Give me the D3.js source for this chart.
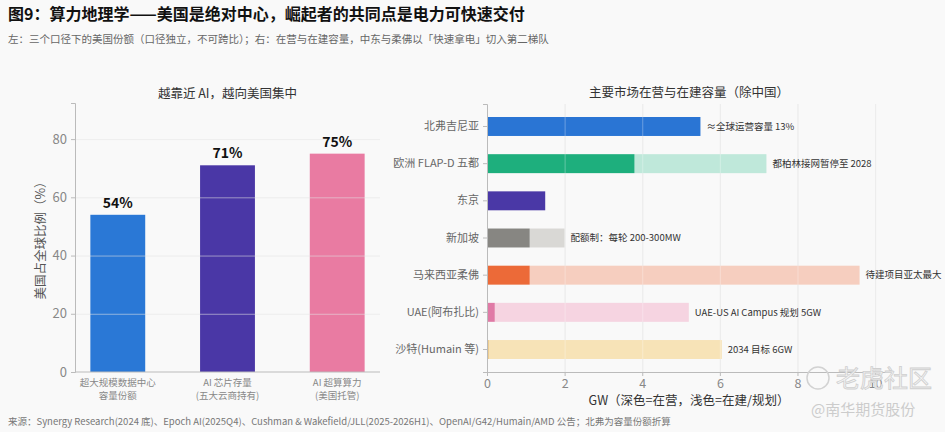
<!DOCTYPE html>
<html>
<head>
<meta charset="utf-8">
<script src="https://cdn.jsdelivr.net/npm/d3@7"></script>
<style>
  body { margin: 0; background: #f9f9f9; }
  svg text { font-family: "Noto Sans CJK SC", "Noto Sans", sans-serif; }
</style>
</head>
<body>
<div class="chart"></div>
<script>
// Left panel data
var shareCats = [["超大规模数据中心", "容量份额"], ["AI 芯片存量", "(五大云商持有)"], ["AI 超算算力", "(美国托管)"]];
var shareVals = [54, 71, 75];
var shareColors = ["#2a78d6", "#4a37a6", "#e97ba2"];
var shareTicks = [0, 20, 40, 60, 80];

// Right panel data (GW)
var marketCats = ["北弗吉尼亚", "欧洲 FLAP-D 五都", "东京", "新加坡", "马来西亚柔佛", "UAE(阿布扎比)", "沙特(Humain 等)"];
var operating = [5.5, 3.8, 1.5, 1.1, 1.1, 0.2, 0.05];
var pipeline = [0, 3.4, 0, 0.9, 8.5, 5.0, 6.0];
var marketNotes = ["≈全球运营容量 13%", "都柏林接网暂停至 2028", "", "配额制：每轮 200-300MW", "待建项目亚太最大", "UAE-US AI Campus 规划 5GW", "2034 目标 6GW"];
var darkColors = ["#2a75d4", "#1eaf7d", "#4a38a6", "#878682", "#ec6a38", "#e07aa6", "#ecc98a"];
var lightColors = ["#bfe6f5", "#bfe8da", "#c9c3e6", "#d9d8d5", "#f6cebf", "#f6d4e1", "#f7e3b7"];
var gwTicks = [0, 2, 4, 6, 8, 10];

var svgWidth = 945;
var svgHeight = 432;

var svg = d3.select(".chart")
    .append("svg")
    .attr("width", svgWidth)
    .attr("height", svgHeight);

svg.append("rect")
    .attr("width", svgWidth)
    .attr("height", svgHeight)
    .attr("fill", "#f9f9f9");

// Headings
svg.append("text")
    .attr("x", 8)
    .attr("y", 20)
    .style("font-size", "16px")
    .style("font-weight", "bold")
    .attr("fill", "#111")
    .text("图9：算力地理学——美国是绝对中心，崛起者的共同点是电力可快速交付");

svg.append("text")
    .attr("x", 8)
    .attr("y", 43)
    .style("font-size", "10.5px")
    .attr("fill", "#666")
    .text("左：三个口径下的美国份额（口径独立，不可跨比）；右：在营与在建容量，中东与柔佛以「快速拿电」切入第二梯队");

svg.append("text")
    .attr("x", 8)
    .attr("y", 425)
    .style("font-size", "9.5px")
    .attr("fill", "#777")
    .text("来源：Synergy Research(2024 底)、Epoch AI(2025Q4)、Cushman & Wakefield/JLL(2025-2026H1)、OpenAI/G42/Humain/AMD 公告；北弗为容量份额折算");

// ---------- Left panel ----------
var left = { x0: 75, x1: 380, y0: 103, y1: 372 };

var xBand = d3.scaleBand()
    .domain(d3.range(shareVals.length))
    .range([left.x0, left.x1])
    .paddingInner(0.5)
    .paddingOuter(0.14);

var yShare = d3.scaleLinear()
    .domain([0, 92.4])
    .range([left.y1, left.y0]);

svg.append("text")
    .attr("x", (left.x0 + left.x1) / 2)
    .attr("y", 98)
    .attr("text-anchor", "middle")
    .style("font-size", "12.5px")
    .attr("fill", "#333")
    .text("越靠近 AI，越向美国集中");

svg.selectAll(".sbar")
    .data(shareVals)
    .enter()
    .append("rect")
    .attr("class", "sbar")
    .attr("x", (d, i) => xBand(i))
    .attr("y", d => yShare(d))
    .attr("width", xBand.bandwidth())
    .attr("height", d => yShare(0) - yShare(d))
    .attr("fill", (d, i) => shareColors[i]);

// gridlines sit over the bars
svg.append("g")
    .attr("transform", `translate(${left.x0}, 0)`)
    .call(d3.axisLeft(yShare).tickValues(shareTicks.slice(1)).tickSize(-(left.x1 - left.x0)).tickFormat(""))
    .call(g => g.select(".domain").remove())
    .call(g => g.selectAll("line").attr("stroke", "#e4e4e4").attr("stroke-opacity", 0.55));

svg.selectAll(".slabel")
    .data(shareVals)
    .enter()
    .append("text")
    .attr("class", "slabel")
    .attr("x", (d, i) => xBand(i) + xBand.bandwidth() / 2)
    .attr("y", d => yShare(d) - 7)
    .attr("text-anchor", "middle")
    .style("font-size", "14px")
    .style("font-weight", "bold")
    .attr("fill", "#111")
    .text(d => d + "%");

var yAxisL = svg.append("g")
    .attr("transform", `translate(${left.x0}, 0)`)
    .call(d3.axisLeft(yShare).tickValues(shareTicks).tickSize(4).tickPadding(4));
yAxisL.select(".domain").attr("stroke", "#bbb");
yAxisL.selectAll("line").attr("stroke", "#bbb");
yAxisL.selectAll("text").attr("fill", "#888").style("font-size", "13px");

svg.append("line")
    .attr("x1", left.x0)
    .attr("x2", left.x1)
    .attr("y1", left.y1)
    .attr("y2", left.y1)
    .attr("stroke", "#bbb");

// two-line category labels, one text per line
shareCats.forEach(function(lines, i) {
    lines.forEach(function(t, j) {
        svg.append("text")
            .attr("x", xBand(i) + xBand.bandwidth() / 2)
            .attr("y", 386 + j * 12.5)
            .attr("text-anchor", "middle")
            .style("font-size", "9.5px")
            .attr("fill", "#888")
            .text(t);
    });
});

svg.append("text")
    .attr("transform", `translate(45, ${(left.y0 + left.y1) / 2}) rotate(-90)`)
    .attr("text-anchor", "middle")
    .style("font-size", "12.5px")
    .attr("fill", "#555")
    .text("美国占全球比例（%）");

// ---------- Right panel ----------
var right = { x0: 487, x1: 891, y0: 104, y1: 372 };

var xGW = d3.scaleLinear()
    .domain([0, 10.41])
    .range([right.x0, right.x1]);

var yBand = d3.scaleBand()
    .domain(marketCats)
    .range([right.y0, right.y1])
    .paddingInner(0.49)
    .paddingOuter(0.35);

svg.append("text")
    .attr("x", (right.x0 + right.x1) / 2)
    .attr("y", 97)
    .attr("text-anchor", "middle")
    .style("font-size", "12.5px")
    .attr("fill", "#333")
    .text("主要市场在营与在建容量（除中国）");

// vertical gridlines
svg.append("g")
    .attr("transform", `translate(0, ${right.y1})`)
    .call(d3.axisBottom(xGW).tickValues(gwTicks.slice(1)).tickSize(-(right.y1 - right.y0)).tickFormat(""))
    .call(g => g.select(".domain").remove())
    .call(g => g.selectAll("line").attr("stroke", "#e4e4e4"));

// light part (pipeline) stacked after dark part (operating)
svg.selectAll(".pbar")
    .data(pipeline)
    .enter()
    .append("rect")
    .attr("class", "pbar")
    .attr("x", (d, i) => xGW(operating[i]))
    .attr("y", (d, i) => yBand(marketCats[i]))
    .attr("width", (d, i) => xGW(operating[i] + d) - xGW(operating[i]))
    .attr("height", yBand.bandwidth())
    .attr("fill", (d, i) => lightColors[i]);

svg.selectAll(".obar")
    .data(operating)
    .enter()
    .append("rect")
    .attr("class", "obar")
    .attr("x", xGW(0))
    .attr("y", (d, i) => yBand(marketCats[i]))
    .attr("width", d => xGW(d) - xGW(0))
    .attr("height", yBand.bandwidth())
    .attr("fill", (d, i) => darkColors[i]);

// grid shows faintly through the bars
svg.append("g")
    .attr("transform", `translate(0, ${right.y1})`)
    .call(d3.axisBottom(xGW).tickValues(gwTicks.slice(1)).tickSize(-(right.y1 - right.y0)).tickFormat(""))
    .call(g => g.select(".domain").remove())
    .call(g => g.selectAll("line").attr("stroke", "#ffffff").attr("stroke-opacity", 0.3));

svg.selectAll(".note")
    .data(marketNotes)
    .enter()
    .append("text")
    .attr("class", "note")
    .attr("x", (d, i) => xGW(operating[i] + pipeline[i]) + 6)
    .attr("y", (d, i) => yBand(marketCats[i]) + yBand.bandwidth() / 2)
    .attr("dy", "0.35em")
    .style("font-size", "9.5px")
    .attr("fill", "#333")
    .text(d => d);

var yAxisR = svg.append("g")
    .attr("transform", `translate(${right.x0}, 0)`)
    .call(d3.axisLeft(yBand).tickSize(4).tickPadding(4));
yAxisR.select(".domain").attr("stroke", "#bbb");
yAxisR.selectAll("line").attr("stroke", "#bbb");
yAxisR.selectAll("text").attr("fill", "#666").style("font-size", "11px");

var xAxisR = svg.append("g")
    .attr("transform", `translate(0, ${right.y1})`)
    .call(d3.axisBottom(xGW).tickValues(gwTicks).tickSize(4).tickPadding(3));
xAxisR.select(".domain").attr("stroke", "#bbb");
xAxisR.selectAll("line").attr("stroke", "#bbb");
xAxisR.selectAll("text").attr("fill", "#888").style("font-size", "12.5px");

svg.append("text")
    .attr("x", (right.x0 + right.x1) / 2)
    .attr("y", 405)
    .attr("text-anchor", "middle")
    .style("font-size", "12.5px")
    .attr("fill", "#333")
    .text("GW（深色=在营，浅色=在建/规划）");

// Watermark
svg.append("circle")
    .attr("cx", 818)
    .attr("cy", 378)
    .attr("r", 11)
    .attr("fill", "none")
    .attr("stroke", "#d2d2d2")
    .attr("stroke-width", 1.5);

svg.append("text")
    .attr("x", 836)
    .attr("y", 387)
    .style("font-size", "24px")
    .attr("fill", "#f4f4f4")
    .attr("stroke", "#cfcfcf")
    .attr("stroke-width", 0.8)
    .text("老虎社区");

svg.append("text")
    .attr("x", 811)
    .attr("y", 415)
    .style("font-size", "15px")
    .attr("fill", "#cccccc")
    .text("@南华期货股份");
</script>
</body>
</html>
